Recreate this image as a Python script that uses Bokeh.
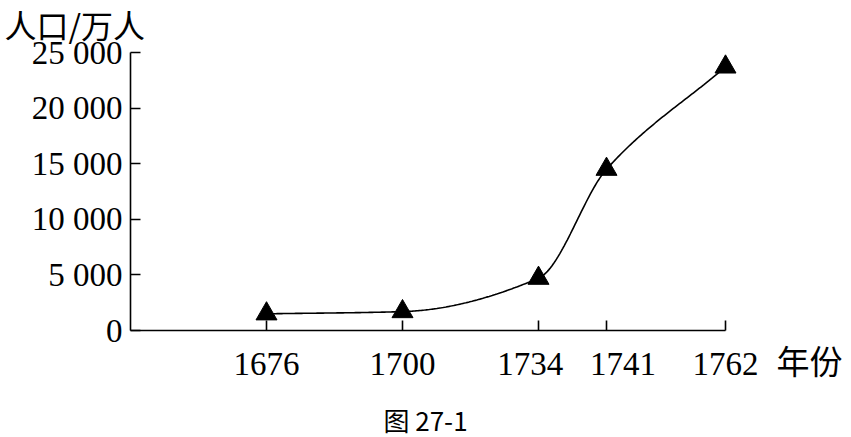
import numpy as np
from bokeh.plotting import figure
from bokeh.models import Range1d, FixedTicker, Label
from bokeh.embed import file_html
from bokeh.resources import INLINE

# ---- data ----
years = ["1676", "1700", "1734", "1741", "1762"]
population = [1500, 1700, 4700, 14500, 23700]  # 万人
y_ticks = [0, 5000, 10000, 15000, 20000, 25000]
y_tick_labels = ["0", "5 000", "10 000", "15 000", "20 000", "25 000"]
y_title = "人口/万人"
x_title = "年份"
caption = "图 27-1"

# ---- layout (uneven horizontal slots, as drawn in the figure) ----
slots = [1.0, 2.0, 3.0, 3.5, 4.375]
label_shift = [0, 0, -2, 4, 0]   # label nudge, in no-break spaces (- = left)
W, H = 851, 437
AX_L, AX_R = 130, 725      # pixel x of axis origin / axis end
AX_B, AX_T = 330, 52       # pixel y of 0 / top tick
XS_END = 4.375
Y_TOP = 25000

xpu = (AX_R - AX_L) / XS_END       # px per slot unit
ypu = (AX_B - AX_T) / Y_TOP        # px per 万人


def dx(px):
    return (px - AX_L) / xpu


def dy(py):
    return (AX_B - py) / ypu


SERIF = "Liberation Serif"
CJK = "Noto Sans CJK SC"
NBSP = "\u00a0"


def pchip(x, y, xs):
    x = np.asarray(x, float)
    y = np.asarray(y, float)
    h = np.diff(x)
    delta = np.diff(y) / h
    n = len(x)
    d = np.zeros(n)
    d[0], d[-1] = delta[0], delta[-1]
    for k in range(1, n - 1):
        if delta[k - 1] * delta[k] <= 0:
            d[k] = 0
        else:
            d[k] = 2.0 / (1.0 / delta[k - 1] + 1.0 / delta[k])
    out = np.empty_like(xs)
    for i, xv in enumerate(xs):
        k = min(max(np.searchsorted(x, xv) - 1, 0), n - 2)
        t = (xv - x[k]) / h[k]
        h00 = 2 * t**3 - 3 * t**2 + 1
        h10 = t**3 - 2 * t**2 + t
        h01 = -2 * t**3 + 3 * t**2
        h11 = t**3 - t**2
        out[i] = h00 * y[k] + h10 * h[k] * d[k] + h01 * y[k + 1] + h11 * h[k] * d[k + 1]
    return out


def nudge(text, n):
    return text + NBSP * (-n) if n < 0 else NBSP * n + text


p = figure(
    width=W, height=H,
    min_border_left=0, min_border_right=0, min_border_top=0, min_border_bottom=0,
    x_range=Range1d(dx(0), dx(W)), y_range=Range1d(dy(H), dy(0)),
    output_backend="svg", toolbar_location=None,
)
p.outline_line_color = None
p.grid.visible = False
p.background_fill_color = "white"
p.border_fill_color = "white"

xs = np.linspace(slots[0], slots[-1], 300)
p.line(xs, pchip(slots, population, xs), line_color="black", line_width=1.6)
p.scatter(slots, population, marker="triangle", size=21, fill_color="black", line_color="black")

# axes (placed at the data origin, limited to the drawn extent)
p.xaxis.fixed_location = 0
p.xaxis.bounds = (0, XS_END)
p.yaxis.fixed_location = 0
p.yaxis.bounds = (0, Y_TOP)
p.xaxis.ticker = FixedTicker(ticks=slots)
p.xaxis.major_label_overrides = {s: nudge(y, n) for s, y, n in zip(slots, years, label_shift)}
p.yaxis.ticker = FixedTicker(ticks=y_ticks)
p.yaxis.major_label_overrides = {t: l for t, l in zip(y_ticks, y_tick_labels)}
for ax in (p.xaxis, p.yaxis):
    ax.major_tick_in = 10
    ax.major_tick_out = 0
    ax.minor_tick_line_color = None
    ax.axis_line_width = 1.6
    ax.major_tick_line_width = 1.6
    ax.axis_line_color = "black"
    ax.major_tick_line_color = "black"
    ax.major_label_text_font = SERIF
    ax.major_label_text_font_size = "33px"
    ax.major_label_text_color = "black"
p.xaxis.major_label_standoff = 15
p.yaxis.major_label_standoff = 8

p.add_layout(Label(x=dx(4), y=dy(0), text=y_title, text_font=CJK, text_font_size="32px",
                   text_align="left", text_baseline="top", text_color="black"))
p.add_layout(Label(x=dx(776), y=dy(359), text=x_title, text_font=CJK, text_font_size="33px",
                   text_align="left", text_baseline="middle", text_color="black"))
p.add_layout(Label(x=dx(425), y=dy(419), text=caption, text_font=CJK, text_font_size="26px",
                   text_align="center", text_baseline="middle", text_color="black"))

open("out.html", "w").write(file_html(p, INLINE))
